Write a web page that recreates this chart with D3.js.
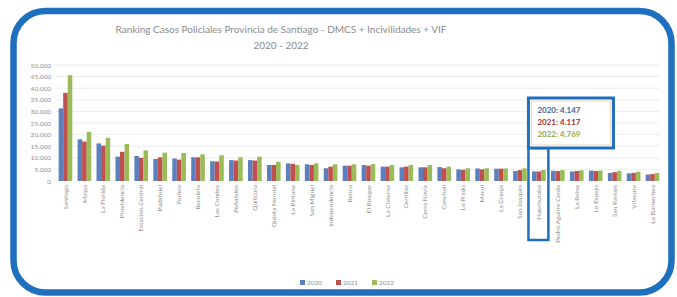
<!DOCTYPE html>
<html><head><meta charset="utf-8">
<script src="https://cdn.jsdelivr.net/npm/d3@7"></script>
<style>body{margin:0;background:#fff}svg{display:block}</style>
</head><body><svg id="c" width="677" height="297"></svg>
<script>
const categories = ["Santiago","Maipú","La Florida","Providencia","Estación Central","Pudahuel","Ñuñoa","Recoleta","Las Condes","Peñalolén","Quilicura","Quinta Normal","La Pintana","San Miguel","Independencia","Renca","El Bosque","La Cisterna","Cerrillos","Cerro Navia","Conchalí","Lo Prado","Macul","La Granja","San Joaquín","Huechuraba","Pedro Aguirre Cerda","La Reina","Lo Espejo","San Ramón","Vitacura","Lo Barnechea"];
const v2020 = [31300,18000,16200,10500,10800,9500,9700,10200,8500,9000,9000,6900,7600,7200,5500,6600,6900,6200,5900,5900,6000,5000,5400,5300,4300,4147,4400,4100,4500,3500,3300,2800];
const v2021 = [38000,17000,15200,12600,10000,10200,9200,10200,8400,8800,8800,6900,7400,6900,6200,6600,6600,6200,6200,5900,5500,4800,5000,5300,4700,4117,4300,4300,4300,3800,3500,3000];
const v2022 = [45600,21200,18600,16000,13200,12200,12100,11500,11100,10200,10500,8300,6900,7600,7200,7200,7300,6900,6900,6900,6200,5500,5500,5400,5400,4769,4700,4600,4500,4400,4000,3500];
const seriesNames = ["2020","2021","2022"];
const yTicks = [0,5000,10000,15000,20000,25000,30000,35000,40000,45000,50000];
const highlight = "Huechuraba";

const colors = ["#5b7fbf","#c0504d","#9bbb59"];
const series = [v2020, v2021, v2022];
const svg = d3.select("#c");
const font = "Lato, 'Open Sans', sans-serif";
const fmt = d3.formatLocale({decimal:",",thousands:".",grouping:[3],currency:["",""]}).format(",d");

// frame
svg.append("rect").attr("x",13.5).attr("y",11).attr("width",658).attr("height",281.5)
  .attr("rx",32).attr("fill","#fff").attr("stroke","#1f6fbf").attr("stroke-width",6.5);

// title
svg.append("text").attr("x",281).attr("y",33).attr("text-anchor","middle")
  .attr("font-family",font).attr("font-size",10).attr("fill","#8c8c8c")
  .text("Ranking Casos Policiales Provincia de Santiago - DMCS + Incivilidades + VIF");
svg.append("text").attr("x",281).attr("y",49).attr("text-anchor","middle")
  .attr("font-family",font).attr("font-size",10).attr("fill","#8c8c8c").text("2020 - 2022");

const x = d3.scaleBand().domain(categories).range([56,662]).paddingInner(0.28).paddingOuter(0.14);
const xs = d3.scaleBand().domain(seriesNames).range([0,x.bandwidth()]);
const y = d3.scaleLinear().domain([0,50000]).range([181,65]);

// grid
svg.append("g").selectAll("line").data(yTicks.slice(1)).join("line")
  .attr("x1",56).attr("x2",660).attr("y1",d=>y(d)).attr("y2",d=>y(d))
  .attr("stroke","#e8e8e8").attr("stroke-width",0.8);

// y axis
const ya = svg.append("g").attr("transform","translate(56,0)")
  .call(d3.axisLeft(y).tickValues(yTicks).tickFormat(fmt).tickSize(0).tickPadding(5));
ya.select(".domain").remove();
ya.selectAll("text").attr("font-family",font).attr("font-size",6.5).attr("fill","#909090");

// bars
const g = svg.append("g");
categories.forEach((c,i)=>{
  series.forEach((s,j)=>{
    g.append("rect").attr("x",x(c)+xs(seriesNames[j])).attr("width",xs.bandwidth())
      .attr("y",y(s[i])).attr("height",y(0)-y(s[i])).attr("fill",colors[j]);
  });
});

// x axis
const xa = svg.append("g").attr("transform","translate(0,181)")
  .call(d3.axisBottom(x).tickSize(0).tickPadding(0));
xa.select(".domain").remove();
xa.selectAll("text").attr("font-family",font).attr("font-size",6.5).attr("fill","#909090")
  .attr("transform","rotate(-90)").attr("text-anchor","end").attr("dx","-4").attr("dy","0.32em")
  .attr("x",0).attr("y",0);

// annotation
const hx = x(highlight) + x.bandwidth()/2;
const step = x.step();
const bx0 = hx - step/2 - 1;
svg.append("rect").attr("x",bx0).attr("y",148).attr("width",step+1).attr("height",92)
  .attr("fill","none").attr("stroke","#1f6fbf").attr("stroke-width",2.5);
svg.append("rect").attr("x",bx0).attr("y",98).attr("width",85).attr("height",50)
  .attr("fill","#fff").attr("stroke","#1f6fbf").attr("stroke-width",3);
svg.append("rect").attr("x",bx0+3).attr("y",101).attr("width",79).attr("height",44)
  .attr("fill","none").attr("stroke","#f0d7b8").attr("stroke-width",1);
const hi = categories.indexOf(highlight);
const tcol = ["#4a5f95","#a8322f","#8fa84a"];
series.forEach((s,j)=>{
  svg.append("text").attr("x",bx0+9).attr("y",113+j*12)
    .attr("font-family",font).attr("font-size",8).attr("font-weight","bold").attr("fill",tcol[j])
    .text(seriesNames[j]+": "+fmt(s[hi]));
});

// legend
const lg = svg.append("g").attr("transform","translate(300,283)");
seriesNames.forEach((n,j)=>{
  const gx = j*36;
  lg.append("rect").attr("x",gx).attr("y",-3).attr("width",5).attr("height",5).attr("fill",colors[j]);
  lg.append("text").attr("x",gx+7).attr("y",2).attr("font-family",font).attr("font-size",6.5)
    .attr("fill","#909090").text(n);
});
</script></body></html>
